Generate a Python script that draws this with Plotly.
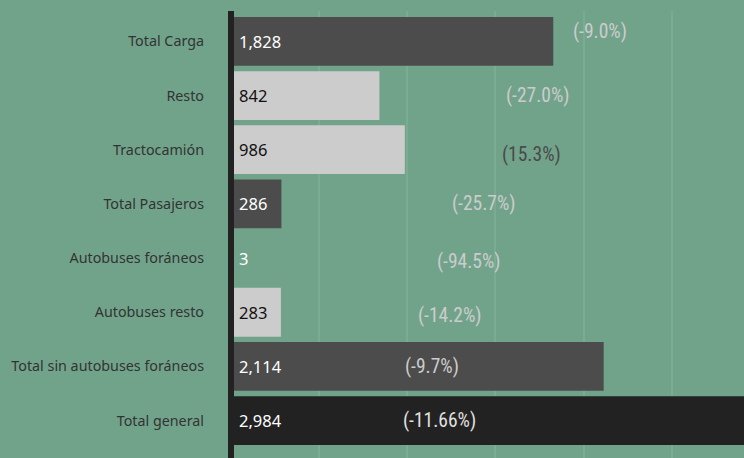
import plotly.graph_objects as go

categories = ["Total Carga", "Resto", "Tractocamión", "Total Pasajeros",
              "Autobuses foráneos", "Autobuses resto",
              "Total sin autobuses foráneos", "Total general"]
values = [1828, 842, 986, 286, 3, 283, 2114, 2984]
value_labels = ["1,828", "842", "986", "286", "3", "283", "2,114", "2,984"]
pct_labels = ["(-9.0%)", "(-27.0%)", "(15.3%)", "(-25.7%)", "(-94.5%)",
              "(-14.2%)", "(-9.7%)", "(-11.66%)"]

# styling / label placement
bar_colors = ["#4c4c4c", "#cccccc", "#cccccc", "#4c4c4c", "#cccccc",
              "#cccccc", "#4c4c4c", "#222222"]
value_text_colors = ["#ffffff", "#111111", "#111111", "#ffffff", "#ffffff",
                     "#111111", "#ffffff", "#ffffff"]
pct_colors = ["#cccccc", "#cccccc", "#4a4a4a", "#cccccc", "#cccccc",
              "#cccccc", "#cccccc", "#e0e0e0"]
pct_x = [2095, 1744, 1702, 1435, 1348, 1243, 1138, 1181]
pct_yshift = [10, 0, -5, 0, -3, -3, 0, 0]

BG = "#71a38b"
FONT = "Liberation Sans Narrow, Roboto Condensed, Roboto, sans-serif"

fig = go.Figure(go.Bar(
    y=categories, x=values, orientation="h",
    marker=dict(color=bar_colors, line=dict(width=0)),
    hoverinfo="skip",
))

annotations = []
for c, vl, tc in zip(categories, value_labels, value_text_colors):
    annotations.append(dict(x=0, y=c, xref="x", yref="y", text=vl,
                            showarrow=False, xanchor="left", xshift=6,
                            font=dict(family="Noto Sans, sans-serif", size=16.5, color=tc)))
for c, p, pc, px, ys in zip(categories, pct_labels, pct_colors, pct_x, pct_yshift):
    annotations.append(dict(x=px, y=c, xref="x", yref="y", text=p,
                            showarrow=False, xanchor="center", yshift=ys,
                            font=dict(family=FONT, size=19.5, color=pc)))

fig.update_layout(
    width=744, height=458,
    margin=dict(l=231, r=0, t=11, b=0),
    paper_bgcolor=BG, plot_bgcolor=BG,
    bargap=0.1,
    showlegend=False,
    annotations=annotations,
    shapes=[dict(type="line", xref="paper", yref="paper", x0=0, x1=0, y0=0, y1=1,
                 line=dict(color="#222222", width=6), layer="above")],
    xaxis=dict(range=[0, 2910], dtick=500, showgrid=True, gridcolor="#7aab93",
               gridwidth=2, zeroline=False, showticklabels=False, fixedrange=True),
    yaxis=dict(autorange=False, range=[7.69, -0.56], showline=False,
               ticks="", ticklabelstandoff=26,
               tickfont=dict(family="Noto Sans, sans-serif", size=14.3, color="#333333"),
               showgrid=False),
)

fig.write_html("out.html", config={"displayModeBar": False},
               post_script="document.body.style.margin='0';document.body.style.background='%s';" % BG)
